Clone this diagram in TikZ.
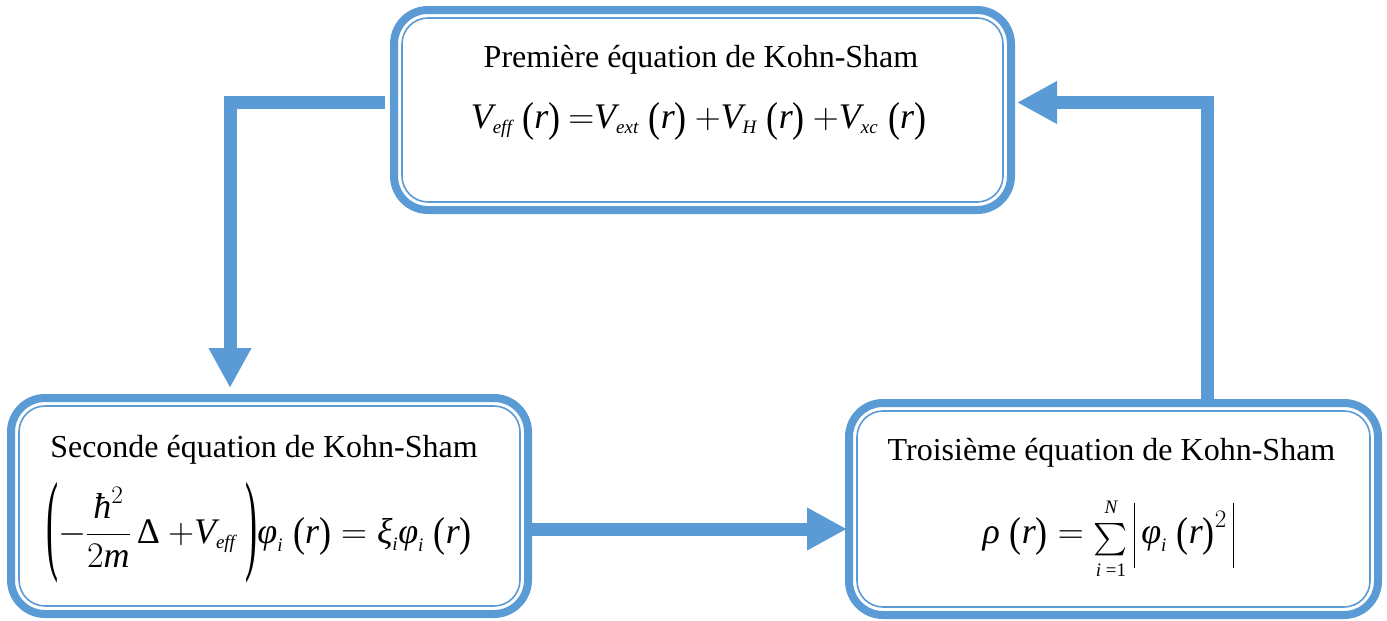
\RequirePackage{fix-cm}
\documentclass[tikz,border=0pt]{standalone}
\usepackage{amsmath}
\usepackage{graphicx}
\usepackage{fontspec}
\setmainfont{Liberation Serif}
\usetikzlibrary{arrows.meta}
\definecolor{kblue}{HTML}{5B9BD5}
\newcommand\mv[1]{\text{\itshape #1}}
\newcommand\msub[1]{\text{\fontsize{19}{19}\selectfont\itshape #1}}
\newcommand\msubt[1]{{\fontsize{19}{19}\selectfont\itshape #1}}
\newcommand\lp{\mathopen{\raisebox{-0.11em}{\scalebox{1}[1.16]{\upshape(}}}}
\newcommand\rp{\mathclose{\raisebox{-0.11em}{\scalebox{1}[1.16]{\upshape)}}}}
\newcommand\biglp{\mathopen{\raisebox{-0.47em}{\scalebox{1}[3.1]{\upshape(}}}}
\newcommand\bigrp{\mathclose{\raisebox{-0.47em}{\scalebox{1}[3.1]{\upshape)}}}}
\newcommand\vbar{\rule[-25pt]{1.3pt}{65pt}}
\newcommand\tplus{\mskip 4mu{+}}
\newcommand\teq{\mskip 4mu{=}}
\newsavebox\sumbox
\newcommand\bigsum{\sbox\sumbox{\raisebox{-6pt}{$\vcenter{\hbox{\scalebox{1.3}{$\sum$}}}$}}%
  \mathop{\rlap{\makebox[\wd\sumbox][c]{\raisebox{30pt}{\msubt{N}}}}%
  \rlap{\makebox[\wd\sumbox][c]{\raisebox{-33pt}{\msubt{i \upshape=1}}}}%
  \usebox\sumbox}}
\tikzset{
  kbox/.style={draw=kblue, line width=8pt, rounded corners=34pt, inner sep=0pt, outer sep=0pt, fill=white},
  kinner/.style={draw=kblue, line width=1.6pt, rounded corners=26pt},
  ktitle/.style={inner sep=0pt, anchor=base, font=\fontsize{32}{38}\selectfont},
  keq/.style={inner sep=0pt, anchor=base, font=\fontsize{36}{42}\selectfont},
  karrow/.style={draw=kblue, line width=13pt, line join=miter, -{Triangle[width=40pt,length=40pt]}}
}
\begin{document}
\begin{tikzpicture}[x=1pt,y=-1pt]
\useasboundingbox (0,0) rectangle (1387,621);
% boxes
\node[kbox, minimum width=617pt, minimum height=200pt] (top) at (702.5,110) {};
\node[kbox, minimum width=517pt, minimum height=216pt] (bl) at (269.5,506) {};
\node[kbox, minimum width=529pt, minimum height=212pt] (br) at (1113.5,509) {};
\foreach \b in {top,bl,br}{
  \draw[kinner] ([xshift=8pt,yshift=-8pt]\b.north west) rectangle ([xshift=-8pt,yshift=8pt]\b.south east);
}
% texts
\node[ktitle] (t1) at (701,67) {Première équation de Kohn-Sham};
\node[keq] (e1) at (698.5,128) {$\mv{V}_{\msub{eff}}\;\lp\mv{r}\rp\teq\mv{V}_{\msub{ext}}\;\lp \mv{r}\rp\tplus\mv{V}_{\msub{H}}\;\lp\mv{r}\rp\tplus\mv{V}_{\msub{xc}}\;\lp\mv{r}\rp$};
\node[ktitle] (t2) at (264,457) {Seconde équation de Kohn-Sham};
\node[keq] (e2) at (259,543) {$\biglp-\dfrac{\mv{ħ}^{2}}{2\mv{m}}\,\text{\upshape Δ}\tplus\mv{V}_{\msub{eff}}\;\bigrp\mv{φ}_{\msub{i}}\;\lp\mv{r}\rp=\mv{ξ}_{\msub{i}}\mv{φ}_{\msub{i}}\;\lp\mv{r}\rp$};
\node[ktitle] (t3) at (1111.5,460) {Troisième équation de Kohn-Sham};
\node[keq] (e3) at (1108.5,543) {$\mv{ρ}\;\lp\mv{r}\rp=\bigsum\vbar\,\mv{φ}_{\msub{i}}\;\lp\mv{r}\rp^{2}\,\vbar$};
% connectors
\coordinate (tipA) at (230,388);
\coordinate (tipB) at (847,529);
\coordinate (tipC) at (1017,102.5);
\draw[karrow] ([xshift=-9pt,yshift=7.5pt]top.west) -| (tipA);
\draw[karrow] ([yshift=-23pt]bl.east) -- (tipB);
\draw[karrow] ([xshift=93.5pt]br.north) |- (tipC);
\end{tikzpicture}
\end{document}
